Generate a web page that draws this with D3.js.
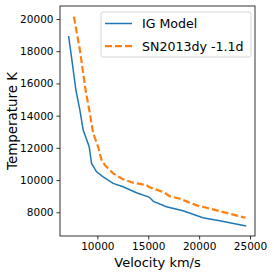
<!DOCTYPE html>
<html>
<head>
<meta charset="utf-8">
<script src="https://cdn.jsdelivr.net/npm/d3@7"></script>
<style>
  body { margin: 0; background: #fff; }
  text { font-family: "DejaVu Sans", sans-serif; fill: #000; }
</style>
</head>
<body>
<div id="chart"></div>
<script>
// IG model curve
const modelVel = [7176, 7500, 7892, 8284, 8608, 9196, 9431, 9922, 10569, 11549, 12529, 13843, 15078, 15510, 16784, 18412, 20373, 22010, 24627];
const modelTemp = [18944, 17453, 15590, 14348, 13106, 12069, 11037, 10516, 10205, 9795, 9584, 9211, 8944, 8677, 8342, 8093, 7659, 7472, 7143];

// SN2013dy -1.1d
const snVel = [7696, 8284, 8843, 9265, 9588, 10078, 10412, 10735, 11549, 12529, 13510, 14824, 15078, 16490, 17137, 18118, 19755, 20735, 22373, 24559];
const snTemp = [20143, 18075, 15590, 14143, 12901, 12069, 11242, 10932, 10416, 10044, 9833, 9689, 9565, 9255, 8988, 8839, 8429, 8280, 8013, 7659];

const xTicks = [10000, 15000, 20000, 25000];
const yTicks = [8000, 10000, 12000, 14000, 16000, 18000, 20000];
const seriesNames = ["IG Model", "SN2013dy -1.1d"];

const W = 274, H = 274;
const margin = {left: 60, top: 6, right: 19, bottom: 38};
const iw = W - margin.left - margin.right, ih = H - margin.top - margin.bottom;

const svg = d3.select("#chart").append("svg").attr("width", W).attr("height", H);
const g = svg.append("g").attr("transform", `translate(${margin.left},${margin.top})`);

const x = d3.scaleLinear().domain([6330, 25490]).range([0, iw]);
const y = d3.scaleLinear().domain([6528, 20807]).range([ih, 0]);

const xAxis = g.append("g").attr("transform", `translate(0,${ih})`)
  .call(d3.axisBottom(x).tickValues(xTicks).tickFormat(d3.format("d")).tickSize(3.5).tickPadding(3));
const yAxis = g.append("g")
  .call(d3.axisLeft(y).tickValues(yTicks).tickFormat(d3.format("d")).tickSize(3.5).tickPadding(3));
[xAxis, yAxis].forEach(a => {
  a.select(".domain").remove();
  a.selectAll("line").attr("stroke", "#000").attr("stroke-width", 0.8);
  a.selectAll("text").style("font-size", "10.5px").style("font-family", "DejaVu Sans");
});

// frame
g.append("rect").attr("width", iw).attr("height", ih)
  .attr("fill", "none").attr("stroke", "#000").attr("stroke-width", 0.8);

const line = d3.line().x(d => x(d[0])).y(d => y(d[1]));

g.append("path").datum(d3.zip(modelVel, modelTemp))
  .attr("d", line).attr("fill", "none").attr("stroke", "#1f77b4").attr("stroke-width", 1.5);

g.append("path").datum(d3.zip(snVel, snTemp))
  .attr("d", line).attr("fill", "none").attr("stroke", "#ff7f0e").attr("stroke-width", 2.2)
  .attr("stroke-dasharray", "7,3");

// axis labels
svg.append("text").attr("x", margin.left + iw / 2).attr("y", 267)
  .attr("text-anchor", "middle").style("font-size", "13px").text("Velocity km/s");
svg.append("text").attr("transform", `translate(17,${margin.top + ih / 2}) rotate(-90)`)
  .attr("text-anchor", "middle").style("font-size", "13.4px").text("Temperature K");

// legend
const lg = svg.append("g").attr("transform", "translate(101,12)");
lg.append("rect").attr("width", 150).attr("height", 45).attr("rx", 2)
  .attr("fill", "#fff").attr("fill-opacity", 0.8).attr("stroke", "#ccc").attr("stroke-width", 0.8);
const styles = [{c: "#1f77b4", w: 1.5, d: null}, {c: "#ff7f0e", w: 2.2, d: "7,3"}];
seriesNames.forEach((name, i) => {
  const yy = 11.5 + i * 22.7;
  lg.append("line").attr("x1", 4).attr("x2", 31).attr("y1", yy).attr("y2", yy)
    .attr("stroke", styles[i].c).attr("stroke-width", styles[i].w)
    .attr("stroke-dasharray", styles[i].d);
  lg.append("text").attr("x", 41).attr("y", yy).attr("dy", "0.35em")
    .style("font-size", "12.6px").text(name);
});
</script>
</body>
</html>
